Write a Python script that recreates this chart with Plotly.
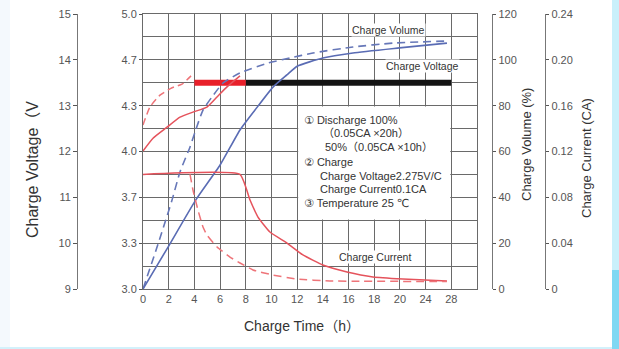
import plotly.graph_objects as go

W, H = 619, 349

# ---------------- data ----------------
# x positions are in axis units (each grid column = 2 units); tick labels below
x_tickvals = [0, 2, 4, 6, 8, 10, 12, 14, 16, 18, 20, 22, 24]
x_ticktext = ["0", "2", "4", "6", "8", "10", "12", "14", "16", "18", "20", "24", "28"]

# Charge volume (%)
t_vol_100 = [0, 1.95, 4.1, 6.0, 7.55, 8.72, 10.12, 11.2, 12.0, 14.0, 16.34, 19.96, 23.66]
vol_100 = [0, 18.3, 38.8, 54.1, 69.4, 78.1, 88.1, 93.4, 97.2, 100.8, 103.0, 105.2, 107.3]
t_vol_50 = [0, 1.17, 2.26, 2.88, 3.66, 4.05, 4.67, 5.37, 6.23, 7.55, 9.73, 11.44, 13.23, 16.34, 19.46, 23.66]
vol_50 = [0, 19.6, 38.8, 51.1, 62.0, 68.5, 78.1, 83.8, 89.9, 94.3, 98.6, 100.8, 103.0, 105.6, 107.3, 108.2]

# Charge voltage (12V scale)
t_volt_100 = [0, 0.78, 1.87, 2.88, 3.89, 4.98, 5.76, 6.54, 7.55]
volt_100 = [12.01, 12.29, 12.53, 12.75, 12.86, 12.97, 13.19, 13.41, 13.65]
t_volt_50 = [0, 0.54, 1.32, 2.26, 3.04, 3.74]
volt_50 = [12.58, 12.97, 13.23, 13.39, 13.47, 13.65]

# Constant charge voltage limit
t_limit_red = [4, 8]
t_limit_black = [8, 24]
limit_v = 13.5

# Charge current (CA)
t_cur_100 = [0, 7.55, 8.33, 8.95, 9.88, 11.21, 12.45, 14.0, 15.88, 17.9, 20.23, 23.66]
cur_100 = [0.1, 0.1, 0.0777, 0.0628, 0.0497, 0.0401, 0.0297, 0.0209, 0.0148, 0.0105, 0.0087, 0.0070]
t_cur_50 = [3.66, 3.89, 4.28, 4.67, 4.98, 5.76, 6.77, 7.55, 8.56, 10.12, 11.98, 14.55, 17.1, 23.66]
cur_50 = [0.1, 0.0864, 0.0689, 0.0541, 0.0471, 0.0367, 0.0279, 0.0227, 0.0166, 0.0122, 0.0087, 0.0070, 0.0068, 0.0065]

# axis tick labels
y2v_vals = [3, 3 + 1/3, 3 + 2/3, 4, 4 + 1/3, 4 + 2/3, 5]
y2v_text = ["3.0", "3.3", "3.7", "4.0", "4.3", "4.7", "5.0"]
y12_vals = [9, 10, 11, 12, 13, 14, 15]
y6_vals = [4.5, 5.0, 5.5, 6.0, 6.5, 7.0, 7.5]
y6_text = ["4.5", "5.0", "5.5", "6.0", "6.5", "7.0", "7.5"]
vol_vals = [0, 20, 40, 60, 80, 100, 120]
cur_vals = [0, 0.04, 0.08, 0.12, 0.16, 0.20, 0.24]
cur_text = ["0", "0.04", "0.08", "0.12", "0.16", "0.20", "0.24"]

notes = [
    ("① Discharge 100%", 302, 120),
    ("（0.05CA ×20h）", 321, 133),
    ("50%（0.05CA ×10h）", 323, 147),
    ("② Charge", 302, 162),
    ("Charge Voltage2.275V/C", 318, 176),
    ("Charge Current0.1CA", 318, 189),
    ("③ Temperature 25 ℃", 302, 203),
]

# ---------------- layout helpers ----------------
def px(x):
    return x / W

def py(y):
    return 1 - y / H

FONT = "Liberation Sans, Arial, DejaVu Sans, Noto Sans CJK SC"
GRID = "#6a6a6a"
TICKC = "#555555"
BLUE = "#5a6cb4"
BLUE_D = "#6677b8"
RED = "#e5535c"
RED_D = "#ee7479"

x_dom = [px(143), px(477)]
y_dom = [py(289), py(14)]

fig = go.Figure()

common = dict(mode="lines", hoverinfo="skip", showlegend=False)

fig.add_trace(go.Scatter(x=t_vol_50, y=vol_50, yaxis="y4", line=dict(color=BLUE_D, width=1.6, dash="8px,5px", shape="spline", smoothing=0.5), **common))
fig.add_trace(go.Scatter(x=t_vol_100, y=vol_100, yaxis="y4", line=dict(color=BLUE, width=1.6, shape="spline", smoothing=0.5), **common))

fig.add_trace(go.Scatter(x=t_cur_100, y=cur_100, yaxis="y5", line=dict(color=RED, width=1.5, shape="spline", smoothing=0.4), **common))
fig.add_trace(go.Scatter(x=t_cur_50, y=cur_50, yaxis="y5", line=dict(color=RED_D, width=1.5, dash="8px,5px", shape="spline", smoothing=0.4), **common))

fig.add_trace(go.Scatter(x=t_limit_black, y=[limit_v, limit_v], yaxis="y2", line=dict(color="#141414", width=6), **common))
fig.add_trace(go.Scatter(x=t_limit_red, y=[limit_v, limit_v], yaxis="y2", line=dict(color="#e8202a", width=6), **common))

fig.add_trace(go.Scatter(x=t_volt_100, y=volt_100, yaxis="y2", line=dict(color=RED, width=1.5, shape="spline", smoothing=0.5), **common))
fig.add_trace(go.Scatter(x=t_volt_50, y=volt_50, yaxis="y2", line=dict(color=RED_D, width=1.5, dash="7px,4px", shape="spline", smoothing=0.5), **common))

tickfont = dict(family=FONT, size=11, color=TICKC)

fig.update_layout(
    width=W, height=H,
    autosize=False,
    margin=dict(l=0, r=0, t=0, b=0, pad=0, autoexpand=False),
    paper_bgcolor="white", plot_bgcolor="white",
    showlegend=False,
    hovermode=False,
    font=dict(family=FONT, color="#333333"),
    xaxis=dict(
        domain=x_dom, range=[0, 26], tickvals=x_tickvals, ticktext=x_ticktext,
        showgrid=True, gridcolor=GRID, gridwidth=1, zeroline=False,
        showline=True, linecolor=GRID, linewidth=1, mirror=True,
        ticks="", tickfont=tickfont, fixedrange=True, automargin=False,
    ),
    yaxis=dict(
        domain=y_dom, range=[3, 5], tickvals=y2v_vals, ticktext=y2v_text,
        showgrid=True, gridcolor=GRID, gridwidth=1, zeroline=False,
        minor=dict(tickvals=[3 + (2 * k + 1) / 6 for k in range(6)], showgrid=True, gridcolor=GRID, gridwidth=1, ticks=""),
        showline=True, linecolor=GRID, linewidth=1, mirror=True,
        ticks="outside", ticklen=3, tickcolor=TICKC, tickfont=tickfont, automargin=False,
    ),
    yaxis2=dict(
        overlaying="y", anchor="free", position=px(77), side="left",
        range=[9, 15], tickvals=y12_vals, showgrid=False, zeroline=False,
        showline=True, linecolor="#777777", linewidth=1.2,
        ticks="outside", ticklen=4, tickcolor=TICKC, tickfont=tickfont, automargin=False,
    ),
    yaxis3=dict(
        overlaying="y", anchor="free", position=px(107), side="left",
        range=[4.5, 7.5], tickvals=y6_vals, ticktext=y6_text, showgrid=False, zeroline=False,
        showline=True, linecolor="#777777", linewidth=1.2,
        ticks="outside", ticklen=3, tickcolor=TICKC, tickfont=tickfont, automargin=False,
    ),
    yaxis4=dict(
        overlaying="y", anchor="free", position=px(492), side="right",
        range=[0, 120], tickvals=vol_vals, showgrid=False, zeroline=False,
        showline=True, linecolor="#777777", linewidth=1.2,
        ticks="outside", ticklen=3, tickcolor=TICKC, tickfont=tickfont, automargin=False,
    ),
    yaxis5=dict(
        overlaying="y", anchor="free", position=px(545), side="right",
        range=[0, 0.24], tickvals=cur_vals, ticktext=cur_text, showgrid=False, zeroline=False,
        showline=True, linecolor="#777777", linewidth=1.2,
        ticks="outside", ticklen=3, tickcolor=TICKC, tickfont=tickfont, automargin=False,
    ),
)

# white note box covering the grid
shapes = [
    dict(type="rect", xref="x", yref="y", x0=12.08, x1=23.92, y0=3.5 + 0.006, y1=4 + 1/3 - 0.006,
         fillcolor="white", line=dict(width=0), layer="above"),
    # page decoration
    dict(type="rect", xref="paper", yref="paper", x0=px(612), x1=1, y0=0, y1=1,
         fillcolor="#c9f0fb", line=dict(width=0), layer="below"),
    dict(type="rect", xref="paper", yref="paper", x0=px(612), x1=1, y0=0, y1=py(270),
         fillcolor="#7fd8f3", line=dict(width=0), layer="below"),
    dict(type="rect", xref="paper", yref="paper", x0=0, x1=px(10), y0=0, y1=1,
         fillcolor="#f4f9fd", line=dict(width=0), layer="below"),
    dict(type="rect", xref="paper", yref="paper", x0=0, x1=px(612), y0=0, y1=py(347),
         fillcolor="#d3f1fb", line=dict(width=0), layer="below"),
]
fig.update_layout(shapes=shapes)

ann = []
for txt, x, y in notes:
    ann.append(dict(text=txt, x=px(x), y=py(y), xref="paper", yref="paper",
                    xanchor="left", yanchor="middle", showarrow=False,
                    font=dict(family=FONT, size=11, color="#333333")))

for txt, x, y in [("Charge Volume", 388, 30), ("Charge Voltage", 422, 66), ("Charge Current", 375, 257)]:
    ann.append(dict(text=txt, x=px(x), y=py(y), xref="paper", yref="paper",
                    xanchor="center", yanchor="middle", showarrow=False, bgcolor="white",
                    borderpad=0, font=dict(family=FONT, size=10.5, color="#333333")))

ann.append(dict(text="Charge Voltage（V", x=px(32), y=py(170), xref="paper", yref="paper",
                textangle=-90, showarrow=False, xanchor="center", yanchor="middle",
                font=dict(family=FONT, size=16, color="#333333")))
ann.append(dict(text="Charge Volume (%)", x=px(526), y=py(145), xref="paper", yref="paper",
                textangle=-90, showarrow=False, xanchor="center", yanchor="middle",
                font=dict(family=FONT, size=13, color="#333333")))
ann.append(dict(text="Charge Current (CA)", x=px(586), y=py(158), xref="paper", yref="paper",
                textangle=-90, showarrow=False, xanchor="center", yanchor="middle",
                font=dict(family=FONT, size=13, color="#333333")))
ann.append(dict(text="Charge Time（h）", x=px(302), y=py(326), xref="paper", yref="paper",
                showarrow=False, xanchor="center", yanchor="middle",
                font=dict(family=FONT, size=14, color="#333333")))
fig.update_layout(annotations=ann)

fig.write_html(
    "out.html",
    config={"displayModeBar": False, "staticPlot": True},
    post_script="document.body.style.margin='0';document.body.style.overflow='hidden';",
)
